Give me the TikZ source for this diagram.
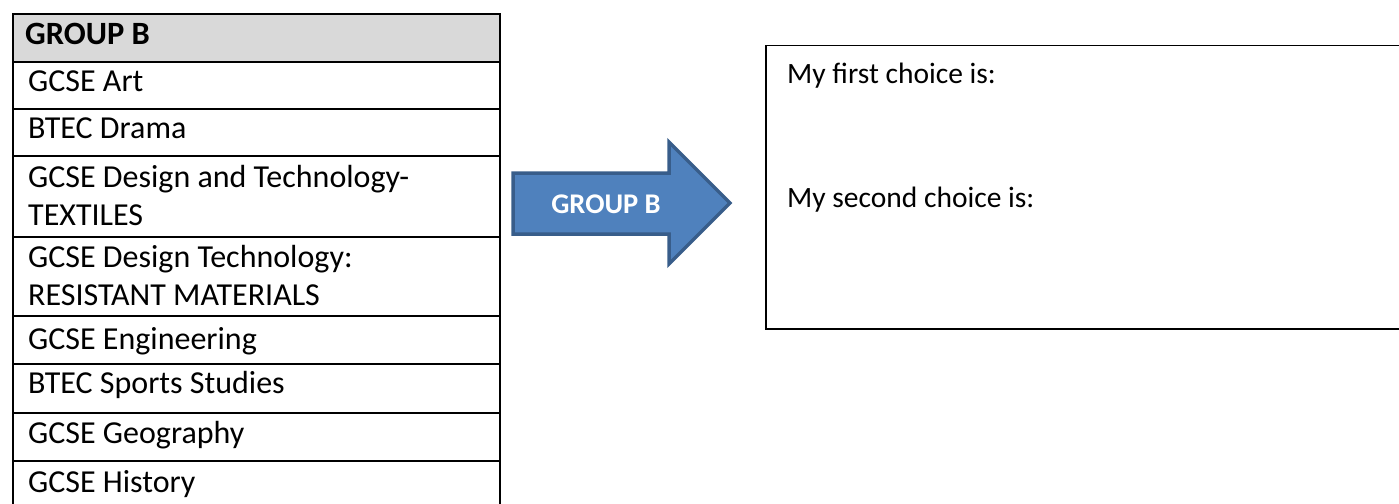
\documentclass[tikz,border=0pt]{standalone}
\usepackage{fontspec}
\setmainfont{Carlito}
\definecolor{headgray}{HTML}{D9D9D9}
\definecolor{arrowfill}{HTML}{4F81BD}
\definecolor{arrowline}{HTML}{385D8A}
\begin{document}
\begin{tikzpicture}[x=1pt,y=-1pt,
  cell/.style={draw=black,line width=2pt,inner sep=0pt,anchor=north west,minimum width=487pt},
  txt/.style={anchor=base west,inner sep=0pt,font=\fontsize{32}{38}\selectfont,align=left},
  choicetxt/.style={anchor=base west,inner sep=0pt,font=\fontsize{29.5}{36}\selectfont},
  arrowtxt/.style={anchor=base,inner sep=0pt,text=white,font=\fontsize{28.5}{33}\selectfont\bfseries}]
\useasboundingbox (0,0) rectangle (1399,503);
\clip (0,0) rectangle (1399,503);
% table rows
\node[cell,fill=headgray,minimum height=48pt] (r0) at (12,13) {};
\node[cell,minimum height=47pt] (r1) at (12,61) {};
\node[cell,minimum height=47pt] (r2) at (12,108) {};
\node[cell,minimum height=81pt] (r3) at (12,155) {};
\node[cell,minimum height=79pt] (r4) at (12,236) {};
\node[cell,minimum height=48pt] (r5) at (12,315) {};
\node[cell,minimum height=49pt] (r6) at (12,363) {};
\node[cell,minimum height=48pt] (r7) at (12,412) {};
\node[cell,minimum height=70pt] (r8) at (12,460) {};
% row texts
\node[txt,font=\fontsize{32.5}{38}\selectfont\bfseries] (t0) at (25,45) {GROUP B};
\node[txt] (t1) at (28,92) {GCSE Art};
\node[txt] (t2) at (28,138) {BTEC Drama};
\node[txt] (t3a) at (28,187) {GCSE Design and Technology-};
\node[txt] (t3b) at (28,225) {TEXTILES};
\node[txt] (t4a) at (28,267) {GCSE Design Technology:};
\node[txt] (t4b) at (28,305) {RESISTANT MATERIALS};
\node[txt] (t5) at (28,349) {GCSE Engineering};
\node[txt] (t6) at (28,393) {BTEC Sports Studies};
\node[txt] (t7) at (28,443) {GCSE Geography};
\node[txt] (t8) at (28,492) {GCSE History};
% arrow
\draw[fill=arrowfill,draw=arrowline,line width=3.5pt,line join=miter]
  (513,173) -- (669,173) -- (669,142) -- (730,203) -- (669,264) -- (669,234) -- (513,234) -- cycle;
\node[arrowtxt] (alabel) at (606,213) {GROUP B};
% choice box
\node[draw=black,line width=1.5pt,inner sep=0pt,anchor=north west,minimum width=720pt,minimum height=283pt] (choice) at (765,45) {};
\node[choicetxt] (c1) at (787,83) {My first choice is:};
\node[choicetxt] (c2) at (787,207) {My second choice is:};
\end{tikzpicture}
\end{document}
